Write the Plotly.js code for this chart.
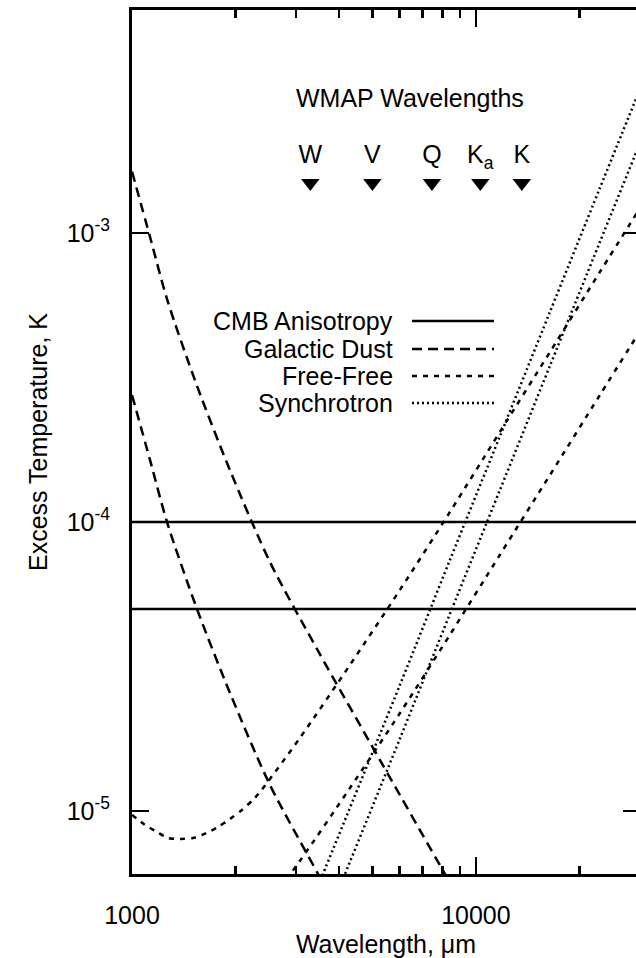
<!DOCTYPE html>
<html>
<head>
<meta charset="utf-8">
<script src="https://cdn.plot.ly/plotly-3.0.1.min.js"></script>
<style>
  html, body { margin: 0; padding: 0; overflow: hidden; background: #fff; }
  #chart { width: 700px; height: 958px; }
</style>
</head>
<body>
<div id="chart"></div>
<script>
// ---- Data (wavelength in micrometres, excess temperature in K) ----
const cmbX = [1000, 30000];
const cmbLevels = [1.0e-4, 5.0e-5];

const dustX = [1000, 1128, 1264, 1545, 1927, 2518, 3475, 5260, 8126, 8985];
const dustHigh = [1.63e-3, 9.7e-4, 5.91e-4, 2.96e-4, 1.51e-4, 7.27e-5, 3.58e-5, 1.5e-5, 6.05e-6, 4.9e-6];
const dustLowX = [1000, 1128, 1264, 1545, 1927, 2518, 3475, 3768];
const dustLow = [2.75e-4, 1.64e-4, 1.0e-4, 5.0e-5, 2.56e-5, 1.23e-5, 6.05e-6, 5.03e-6];

const ffX = [1000, 1091, 1182, 1273, 1379, 1504, 1652, 1778, 1927, 2088, 2247, 2356, 3079, 4302, 6013, 8404, 11744, 16413, 22936, 30000];
const ffHigh = [9.69e-6, 8.95e-6, 8.46e-6, 8.06e-6, 8.0e-6, 8.06e-6, 8.40e-6, 8.80e-6, 9.38e-6, 1.008e-5, 1.092e-5, 1.163e-5, 1.79e-5, 3.20e-5, 5.82e-5, 1.083e-4, 2.05e-4, 3.87e-4, 7.33e-4, 1.22e-3];
const ffLowX = [2356, 3079, 4302, 6013, 8404, 11744, 16413, 22936, 30000];
const ffLow = [4.37e-6, 6.72e-6, 1.20e-5, 2.18e-5, 4.07e-5, 7.70e-5, 1.453e-4, 2.75e-4, 4.58e-4];

const syncX = [3404, 3592, 6013, 8404, 11744, 16413, 22936, 30000];
const syncHigh = [5.16e-6, 6.05e-6, 2.73e-5, 7.39e-5, 1.98e-4, 5.33e-4, 1.431e-3, 3.15e-3];
const syncLow = [3.36e-6, 3.93e-6, 1.78e-5, 4.81e-5, 1.29e-4, 3.47e-4, 9.31e-4, 2.05e-3];

const wmapX = [3300, 5000, 7450, 10300, 13600];
const wmapLabels = ['W', 'V', 'Q', 'K<sub>a</sub>', 'K'];
const wmapMarkerY = [1.49e-3, 1.49e-3, 1.49e-3, 1.49e-3, 1.49e-3];
const wmapLabelY = [1.83e-3, 1.83e-3, 1.83e-3, 1.83e-3, 1.83e-3];

const xTickVals = [1000, 10000];
const xTickText = ['1000', '10000'];
const xMinorVals = [2000, 3000, 4000, 5000, 6000, 7000, 8000, 9000, 20000];
const yTickVals = [1e-5, 1e-4, 1e-3];
const yTickText = ['10<sup>-5</sup>', '10<sup>-4</sup>', '10<sup>-3</sup>'];

const legendNames = ['CMB Anisotropy', 'Galactic Dust', 'Free-Free', 'Synchrotron'];

// ---- Styles ----
const FONT = 'Liberation Sans, Arial, Helvetica, sans-serif';
const LW = 2.5;
const DASH = { cmb: 'solid', dust: '10px,6px', ff: '5px,6px', sync: '2px,3px' };

function line(x, y, dash) {
  return { x: x, y: y, type: 'scatter', mode: 'lines', hoverinfo: 'skip', showlegend: false,
           line: { color: '#000', width: LW, dash: dash, shape: 'spline', smoothing: 0.8 } };
}

const traces = [];
cmbLevels.forEach(v => traces.push(line(cmbX, cmbX.map(() => v), DASH.cmb)));
traces.push(line(dustX, dustHigh, DASH.dust));
traces.push(line(dustLowX, dustLow, DASH.dust));
traces.push(line(ffX, ffHigh, DASH.ff));
traces.push(line(ffLowX, ffLow, DASH.ff));
traces.push(line(syncX, syncHigh, DASH.sync));
traces.push(line(syncX, syncLow, DASH.sync));

traces.push({ x: wmapX, y: wmapMarkerY, type: 'scatter', mode: 'markers', hoverinfo: 'skip', showlegend: false,
              marker: { symbol: 'triangle-down', size: 16, color: '#000' } });
traces.push({ x: wmapX, y: wmapLabelY, type: 'scatter', mode: 'text', text: wmapLabels, hoverinfo: 'skip', showlegend: false,
              textposition: 'middle center', textfont: { family: FONT, size: 25, color: '#000' } });

// ---- Layout geometry ----
const L = 132, T = 10, PW = 508, PH = 864;
const px = x => (x - L) / PW;
const py = y => (T + PH - y) / PH;

const legendRows = [321, 349, 376, 403];
const legendDash = [DASH.cmb, DASH.dust, DASH.ff, DASH.sync];

const annotations = [
  { xref: 'paper', yref: 'paper', x: px(410), y: py(98), text: 'WMAP Wavelengths', showarrow: false,
    xanchor: 'center', yanchor: 'middle', font: { family: FONT, size: 25, color: '#000' } }
];
const shapes = [];
legendNames.forEach((n, i) => {
  annotations.push({ xref: 'paper', yref: 'paper', x: px(395), y: py(legendRows[i]), text: n, showarrow: false,
    xanchor: 'right', yanchor: 'middle', font: { family: FONT, size: 25, color: '#000' } });
  shapes.push({ type: 'line', xref: 'paper', yref: 'paper', x0: px(412), x1: px(494),
    y0: py(legendRows[i]), y1: py(legendRows[i]), line: { color: '#000', width: LW, dash: legendDash[i] } });
});

const layout = {
  width: 700, height: 958,
  margin: { l: L, r: 700 - L - PW, t: T, b: 958 - T - PH, pad: 0 },
  paper_bgcolor: '#fff', plot_bgcolor: '#fff',
  font: { family: FONT, size: 25, color: '#000' },
  showlegend: false,
  xaxis: {
    type: 'log', range: [3, Math.log10(30000)],
    tickmode: 'array', tickvals: xTickVals, ticktext: xTickText,
    ticks: 'inside', ticklen: 17, tickwidth: 2.5, tickcolor: '#000',
    minor: { tickmode: 'array', tickvals: xMinorVals, ticks: 'inside', ticklen: 8, tickwidth: 2.5, tickcolor: '#000', showgrid: false },
    showline: true, linewidth: 3, linecolor: '#000', mirror: 'allticks',
    showgrid: false, zeroline: false,
    tickfont: { family: FONT, size: 25, color: '#000' },
    ticklabelstandoff: 17,
    title: { text: 'Wavelength, \u03bcm', font: { family: FONT, size: 25, color: '#000' }, standoff: 12 }
  },
  yaxis: {
    type: 'log', range: [Math.log10(6.05e-6), -2.2284],
    tickmode: 'array', tickvals: yTickVals, ticktext: yTickText,
    ticks: 'inside', ticklen: 17, tickwidth: 2.5, tickcolor: '#000',
    showline: true, linewidth: 3, linecolor: '#000', mirror: 'allticks',
    showgrid: false, zeroline: false,
    tickfont: { family: FONT, size: 25, color: '#000' },
    ticklabelstandoff: 14,
    title: { text: 'Excess Temperature, K', font: { family: FONT, size: 25, color: '#000' }, standoff: 12 }
  },
  annotations: annotations,
  shapes: shapes
};

Plotly.newPlot('chart', traces, layout, { staticPlot: true, displayModeBar: false });
</script>
</body>
</html>
